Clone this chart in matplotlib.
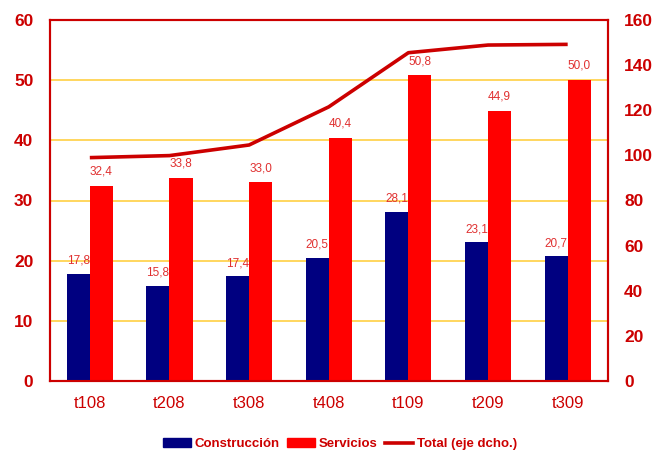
import matplotlib
matplotlib.use("Agg")
import matplotlib.pyplot as plt
import numpy as np
from matplotlib.lines import Line2D
from matplotlib.patches import Patch

categories = ["t108", "t208", "t308", "t408", "t109", "t209", "t309"]
construccion = [17.8, 15.8, 17.4, 20.5, 28.1, 23.1, 20.7]
servicios = [32.4, 33.8, 33.0, 40.4, 50.8, 44.9, 50.0]
total = [99.0, 99.9, 104.6, 121.5, 145.5, 148.9, 149.2]

RED = "#CC0000"
plt.rcParams['font.family'] = ['Liberation Sans', 'DejaVu Sans']

fig = plt.figure(figsize=(6.53, 4.53), dpi=100)
ax = fig.add_axes([50/653, 1-381/453, (607.5-50)/653, (381-20)/453])
ax2 = ax.twinx()

x = np.arange(len(categories))
w = 0.29
ax.bar(x - w/2, construccion, w, color="#000080", zorder=3)
ax.bar(x + w/2, servicios, w, color="#FF0000", zorder=3)
for xi, v in zip(x, construccion):
    ax.annotate(f"{v:.1f}".replace(".", ","), (xi - w/2, v), xytext=(0, 5),
                textcoords="offset points", ha="center", va="bottom",
                fontsize=8.5, color="#E03030", zorder=5)
for xi, v in zip(x, servicios):
    ax.annotate(f"{v:.1f}".replace(".", ","), (xi + w/2, v), xytext=(0, 6),
                textcoords="offset points", ha="center", va="bottom",
                fontsize=8.5, color="#E03030", zorder=5)

ax2.plot(x, total, color=RED, lw=2.6, solid_capstyle="butt", zorder=4)

ax.set_xlim(-0.5, len(categories) - 0.5)
ax.set_ylim(0, 60)
ax.set_yticks(range(0, 61, 10))
ax2.set_ylim(0, 160)
ax2.set_yticks(range(0, 161, 20))
ax.set_xticks(x)
ax.set_xticklabels(categories, fontsize=12, color=RED)
ax.yaxis.grid(True, color="#FFCC33", lw=1.1, zorder=0)
ax.set_axisbelow(True)
ax.tick_params(axis="x", length=0, pad=11)
ax.tick_params(axis="y", length=0, pad=12, labelsize=12.5, labelcolor=RED)
ax2.tick_params(axis="y", length=0, pad=12, labelsize=12.5, labelcolor=RED)
for t in ax.get_yticklabels() + ax2.get_yticklabels():
    t.set_fontweight("bold")
for a in (ax, ax2):
    for s in a.spines.values():
        s.set_color(RED)
        s.set_linewidth(1.5)

handles = [Patch(color="#000080"), Patch(color="#FF0000"),
           Line2D([], [], color=RED, lw=2.6)]
labels = ["Construcción", "Servicios", "Total (eje dcho.)"]
leg = fig.legend(handles, labels, loc="center", bbox_to_anchor=(340/653, 1-444/453),
                 ncol=3, frameon=False, handlelength=2.1, handleheight=0.6,
                 handletextpad=0.3, columnspacing=0.55,
                 prop={"weight": "bold", "size": 9.5})
for t in leg.get_texts():
    t.set_color(RED)

fig.savefig("out.png", dpi=100)
